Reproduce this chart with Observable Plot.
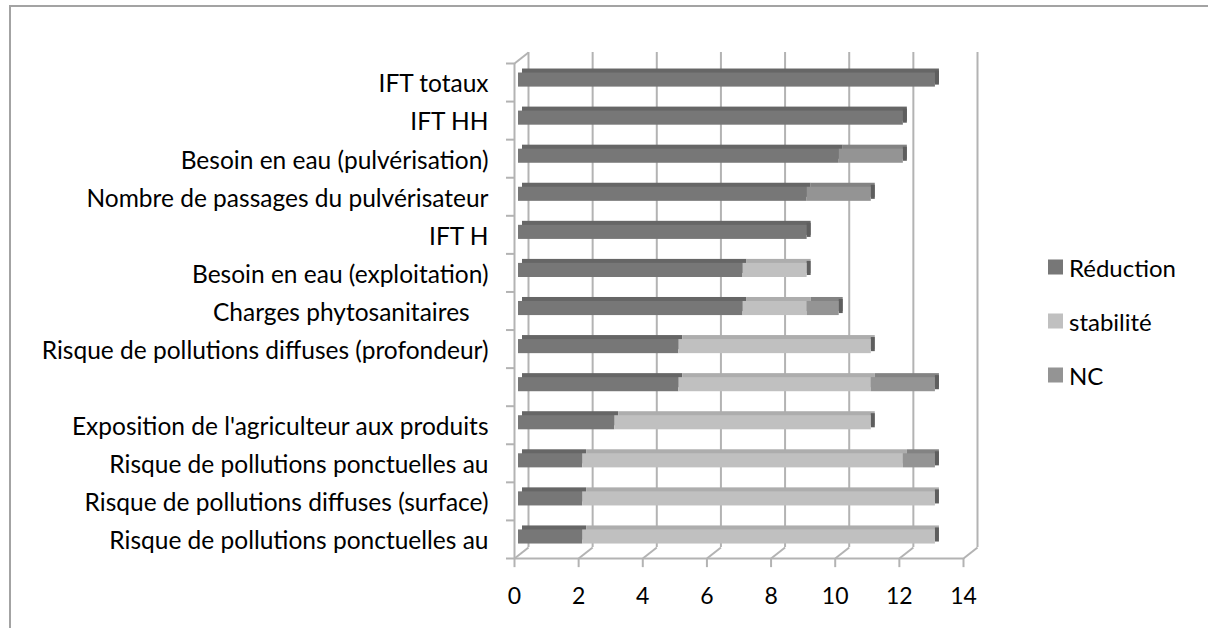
<!DOCTYPE html>
<html><head><meta charset="utf-8">
<script src="https://cdn.jsdelivr.net/npm/d3@7"></script>
<script src="https://cdn.jsdelivr.net/npm/@observablehq/plot@0.6"></script>
<style>
html,body{margin:0;padding:0;background:#fff;overflow:hidden;}
#wrap{position:relative;width:1208px;height:628px;font-family:Lato,sans-serif;}
#chart{position:absolute;left:0;top:0;}
#border{position:absolute;left:9px;top:5px;width:1400px;height:800px;border:2px solid #a3a3a3;pointer-events:none;}
.sw{position:absolute;left:1048px;display:flex;align-items:center;white-space:nowrap;font-size:24px;color:#000;transform:translateY(-50%);}
.sw span{display:inline-block;width:15px;height:15px;margin-right:6px;}
</style></head><body><div id="wrap"><div id="chart"></div><div id="legend"></div><div id="border"></div></div>
<script>
const categories = [
  "IFT totaux",
  "IFT HH",
  "Besoin en eau (pulvérisation)",
  "Nombre de passages du pulvérisateur",
  "IFT H",
  "Besoin en eau (exploitation)",
  "Charges phytosanitaires\u00a0\u00a0\u00a0",
  "Risque de pollutions diffuses (profondeur)",
  "",
  "Exposition de l'agriculteur aux produits",
  "Risque de pollutions ponctuelles au",
  "Risque de pollutions diffuses (surface)",
  "Risque de pollutions ponctuelles au"
];
const series = ["Réduction", "stabilité", "NC"];
const reduction = [13, 12, 10, 9, 9, 7, 7, 5, 5, 3, 2, 2, 2];
const stabilite = [0, 0, 0, 0, 0, 2, 2, 6, 6, 8, 10, 11, 11];
const nc        = [0, 0, 2, 2, 0, 0, 1, 0, 2, 0, 1, 0, 0];
const xTicks = [0, 2, 4, 6, 8, 10, 12, 14];

const frontColors = ["#777777", "#c0c0c0", "#949494"];
const topColors = ["#666666", "#adadad", "#838383"];
const capColor = "#5e5e5e";
const gridColor = "#b3b3b3";

// depth of the 3D box, in data units (≈14px, ≈11px)
const DX = 14 / (449 / 14);
const DY = 11 / (495 / 13);

const rows = categories.map((label, i) => ({i, label}));
const values = [reduction, stabilite, nc];
const segs = [];
categories.forEach((c, i) => {
  let acc = 0;
  values.forEach((arr, s) => {
    const v = arr[i];
    if (v > 0) segs.push({i, series: series[s], x1: acc, x2: acc + v});
    acc += v;
  });
});
const totals = categories.map((c, i) => ({i, total: reduction[i] + stabilite[i] + nc[i]}));

const B1 = 0.25, B2 = 0.62;
const line = {stroke: gridColor, strokeWidth: 2};

const chart = Plot.plot({
  width: 1208,
  height: 628,
  margin: 0,
  style: {background: "transparent", fontFamily: "Lato, sans-serif"},
  x: {domain: [0, 14], range: [514, 963], axis: null},
  y: {domain: [0, 13], range: [63, 558], axis: null},
  color: {domain: series, range: frontColors},
  marks: [
    Plot.ruleX(xTicks, {x: d => d, y1: 0, y2: 13, dx: 14, dy: -11, ...line}),
    Plot.link(xTicks, {x1: d => d, y1: 13, x2: d => d + DX, y2: 13 - DY, ...line}),
    Plot.ruleY([13], {x1: 0, x2: 14, ...line}),
    Plot.ruleX([0], {y1: 0, y2: 13, ...line}),
    Plot.link([0], {x1: 0, y1: 0, x2: DX, y2: -DY, ...line}),
    Plot.ruleY(d3.range(14), {y: d => d, x1: -0.25, x2: 0, ...line}),
    Plot.ruleX(xTicks, {x: d => d, y1: 13, y2: 13.24, ...line}),
    ...series.map((s, k) => Plot.rectX(segs.filter(d => d.series === s), {
      x1: "x1", x2: "x2", y1: d => d.i + B1, y2: d => d.i + B2,
      dx: 8, dy: -4, fill: topColors[k]
    })),
    Plot.rectX(totals, {
      x1: "total", x2: "total", y1: d => d.i + B1, y2: d => d.i + B2,
      dx: 4, dy: -2, insetRight: -4, fill: capColor
    }),
    Plot.rectX(segs, {
      x1: "x1", x2: "x2", y1: d => d.i + B1, y2: d => d.i + B2,
      dx: 4, fill: "series"
    }),
    Plot.text(rows, {
      x: 0, y: d => d.i + 0.5, text: "label", textAnchor: "end",
      dx: -26, dy: 2, fontSize: 24.5, fill: "#000"
    }),
    Plot.text(xTicks, {
      x: d => d, y: 13, text: d => String(d), dy: 38, fontSize: 23, fill: "#000"
    })
  ]
});
document.getElementById("chart").appendChild(chart);

const legend = document.getElementById("legend");
series.forEach((s, k) => {
  const div = document.createElement("div");
  div.className = "sw";
  div.style.top = (267 + k * 54) + "px";
  div.innerHTML = `<span style="background:${frontColors[k]}"></span>${s}`;
  legend.appendChild(div);
});
</script></body></html>
